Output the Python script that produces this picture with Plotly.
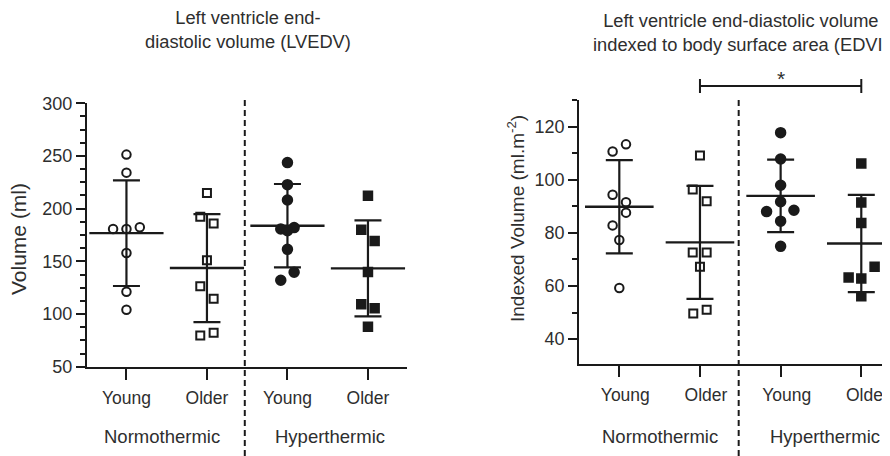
import plotly.graph_objects as go

# ---------------- data ----------------
group_labels = ["Young", "Older", "Young", "Older"]
condition_labels = ["Normothermic", "Hyperthermic"]

# Left panel: LVEDV (ml)
lv_young_normo = [251.3, 234.2, 180.7, 180.7, 182.3, 157.9, 121.2, 104.1]
lv_young_normo_dx = [0, 0, -0.166, 0, 0.166, 0, 0, 0]
lv_older_normo = [214.9, 192.4, 185.8, 151.0, 126.3, 114.6, 79.7, 82.3]
lv_older_normo_dx = [0, -0.083, 0.083, 0, -0.083, 0.083, -0.083, 0.083]
lv_young_hyper = [243.7, 222.8, 208.2, 180.7, 182.0, 179.1, 161.4, 139.6, 132.0]
lv_young_hyper_dx = [0, 0, 0, -0.083, 0.083, 0, 0, 0.083, -0.083]
lv_older_hyper = [212.3, 180.1, 169.3, 139.9, 109.2, 105.4, 88.0]
lv_older_hyper_dx = [0, -0.083, 0.083, 0, -0.083, 0.083, 0]
lv_mean = [176.75, 143.65, 183.85, 143.35]
lv_sd = [50.15, 51.25, 39.55, 45.55]

# Right panel: EDVI (ml.m-2)
ed_young_normo = [113.3, 110.6, 94.3, 91.5, 87.6, 82.8, 77.3, 59.2]
ed_young_normo_dx = [0.083, -0.083, -0.083, 0.083, 0.083, -0.083, 0, 0]
ed_older_normo = [109.1, 96.3, 91.9, 72.6, 72.6, 67.2, 49.6, 51.0]
ed_older_normo_dx = [0, -0.09, 0.083, -0.09, 0.083, 0, -0.083, 0.083]
ed_young_hyper = [117.7, 107.8, 97.9, 91.7, 88.0, 88.5, 84.4, 74.9]
ed_young_hyper_dx = [0, 0, 0, 0, -0.174, 0.165, 0, 0]
ed_older_hyper = [106.1, 91.4, 83.7, 63.2, 67.2, 62.8, 56.1]
ed_older_hyper_dx = [0, 0, 0, -0.157, 0.165, 0, 0]
ed_mean = [89.8, 76.4, 93.9, 76.0]
ed_sd = [17.55, 21.3, 13.65, 18.3]

# ---------------- style ----------------
INK = "#1a1a1a"
TXT = "#2e2e2e"
FONT = "Liberation Sans, Arial, sans-serif"
FS = 18
TICKFS = 17.5

fig = go.Figure()

def add_panel(xa, ya, groups, mean, sd, cap, meanw):
    symbols = ["circle-open", "square-open", "circle", "square"]
    sizes = [8.5, 8, 9.5, 8.5]
    # mean line + SD error bars
    fig.add_trace(go.Scatter(
        x=[0, 1, 2, 3], y=mean, mode="markers", xaxis=xa, yaxis=ya,
        marker=dict(symbol="line-ew-open", size=meanw, color=INK,
                    line=dict(width=2.4, color=INK)),
        error_y=dict(type="data", array=sd, visible=True, width=cap,
                     thickness=2.2, color=INK),
        hoverinfo="skip"))
    for i, (vals, dx) in enumerate(groups):
        fig.add_trace(go.Scatter(
            x=[i + d for d in dx], y=vals, mode="markers", xaxis=xa, yaxis=ya,
            marker=dict(symbol=symbols[i], size=sizes[i], color=INK,
                        line=dict(width=2, color=INK)),
            cliponaxis=False))

add_panel("x", "y",
          [(lv_young_normo, lv_young_normo_dx), (lv_older_normo, lv_older_normo_dx),
           (lv_young_hyper, lv_young_hyper_dx), (lv_older_hyper, lv_older_hyper_dx)],
          lv_mean, lv_sd, 13.5, 53)
add_panel("x2", "y2",
          [(ed_young_normo, ed_young_normo_dx), (ed_older_normo, ed_older_normo_dx),
           (ed_young_hyper, ed_young_hyper_dx), (ed_older_hyper, ed_older_hyper_dx)],
          ed_mean, ed_sd, 13.5, 49)

# page body has an 8px margin: figure origin sits at window (8, 8)
OFF = 8
W, H = 890 - OFF, 456 - OFF
px = lambda v: (v - OFF) / W
py = lambda v: 1 - (v - OFF) / H

xcommon = dict(tickvals=[0, 1, 2, 3], ticktext=group_labels, showline=True,
               linewidth=2.2, linecolor=INK, ticks="outside", ticklen=11,
               tickwidth=2.2, tickcolor=INK, showgrid=False, zeroline=False,
               tickfont=dict(family=FONT, size=TICKFS, color=TXT),
               ticklabelstandoff=3, automargin=False)
ycommon = dict(showline=True, linewidth=2.2, linecolor=INK, ticks="outside",
               ticklen=9, tickwidth=2.2, tickcolor=INK, showgrid=False,
               zeroline=False, automargin=False,
               tickfont=dict(family=FONT, size=FS, color=TXT))

fig.update_layout(
    width=W, height=H, margin=dict(l=0, r=0, t=0, b=0, pad=0, autoexpand=False),
    paper_bgcolor="white", plot_bgcolor="white", showlegend=False,
    xaxis=dict(domain=[px(87), px(407)], range=[-0.49, 3.485], anchor="y", **xcommon),
    yaxis=dict(domain=[py(366.7), py(103.3)], range=[50, 300], tick0=50, dtick=50,
               anchor="x",
               minor=dict(tick0=50, dtick=12.5, ticks="outside", ticklen=5,
                          tickwidth=2.2, tickcolor=INK, showgrid=False),
               **ycommon),
    xaxis2=dict(domain=[px(579.3), 1.0], range=[-0.496, 3.356], anchor="y2",
                ticklabelshift=6, **xcommon),
    yaxis2=dict(domain=[py(364.3), py(100)], range=[30.5, 130], tick0=40, dtick=20,
                anchor="x2",
                minor=dict(tick0=40, dtick=10, ticks="outside", ticklen=5,
                           tickwidth=2.2, tickcolor=INK, showgrid=False),
                **ycommon),
)

# dashed separators
fig.add_shape(type="line", xref="x", yref="paper", x0=1.47, x1=1.47,
              y0=0, y1=py(100), line=dict(color=INK, width=2, dash="6px,4px"))
fig.add_shape(type="line", xref="x2", yref="paper", x0=1.48, x1=1.48,
              y0=0, y1=py(96), line=dict(color=INK, width=2, dash="6px,4px"))

# significance bracket (Older normo vs Older hyper, EDVI)
fig.add_shape(type="line", xref="x2", yref="paper", x0=1, x1=3,
              y0=py(86), y1=py(86), line=dict(color=INK, width=2))
for xb in (1, 3):
    fig.add_shape(type="line", xref="x2", yref="paper", x0=xb, x1=xb,
                  y0=py(79), y1=py(93), line=dict(color=INK, width=2))

def note(text, x, y, xref="paper", angle=0, size=FS):
    fig.add_annotation(xref=xref, yref="paper", x=x, y=y, text=text,
                       showarrow=False, xanchor="center", yanchor="middle",
                       align="center", textangle=angle,
                       font=dict(family=FONT, size=size, color=TXT))

note("*", 2, py(78), xref="x2", size=21)

# condition labels
for xr, xs in (("x", [0.44, 2.53]), ("x2", [0.505, 2.55])):
    for lab, xv in zip(condition_labels, xs):
        note(lab, xv, py(436.5), xref=xr, size=18.5)

# panel titles
note("Left ventricle end-<br>diastolic volume (LVEDV)", px(247.5), py(29.5), size=18.3)
note("Left ventricle end-diastolic volume<br>indexed to body surface area (EDVI)",
     px(741), py(32), size=18.3)

# y-axis titles
note("Volume (ml)", px(18.5), py(239.5), angle=-90, size=21)
note("Indexed Volume (ml.m<sup>-2</sup>)", px(516.7), py(218.3), angle=-90, size=19)

fig.write_html("out.html")
